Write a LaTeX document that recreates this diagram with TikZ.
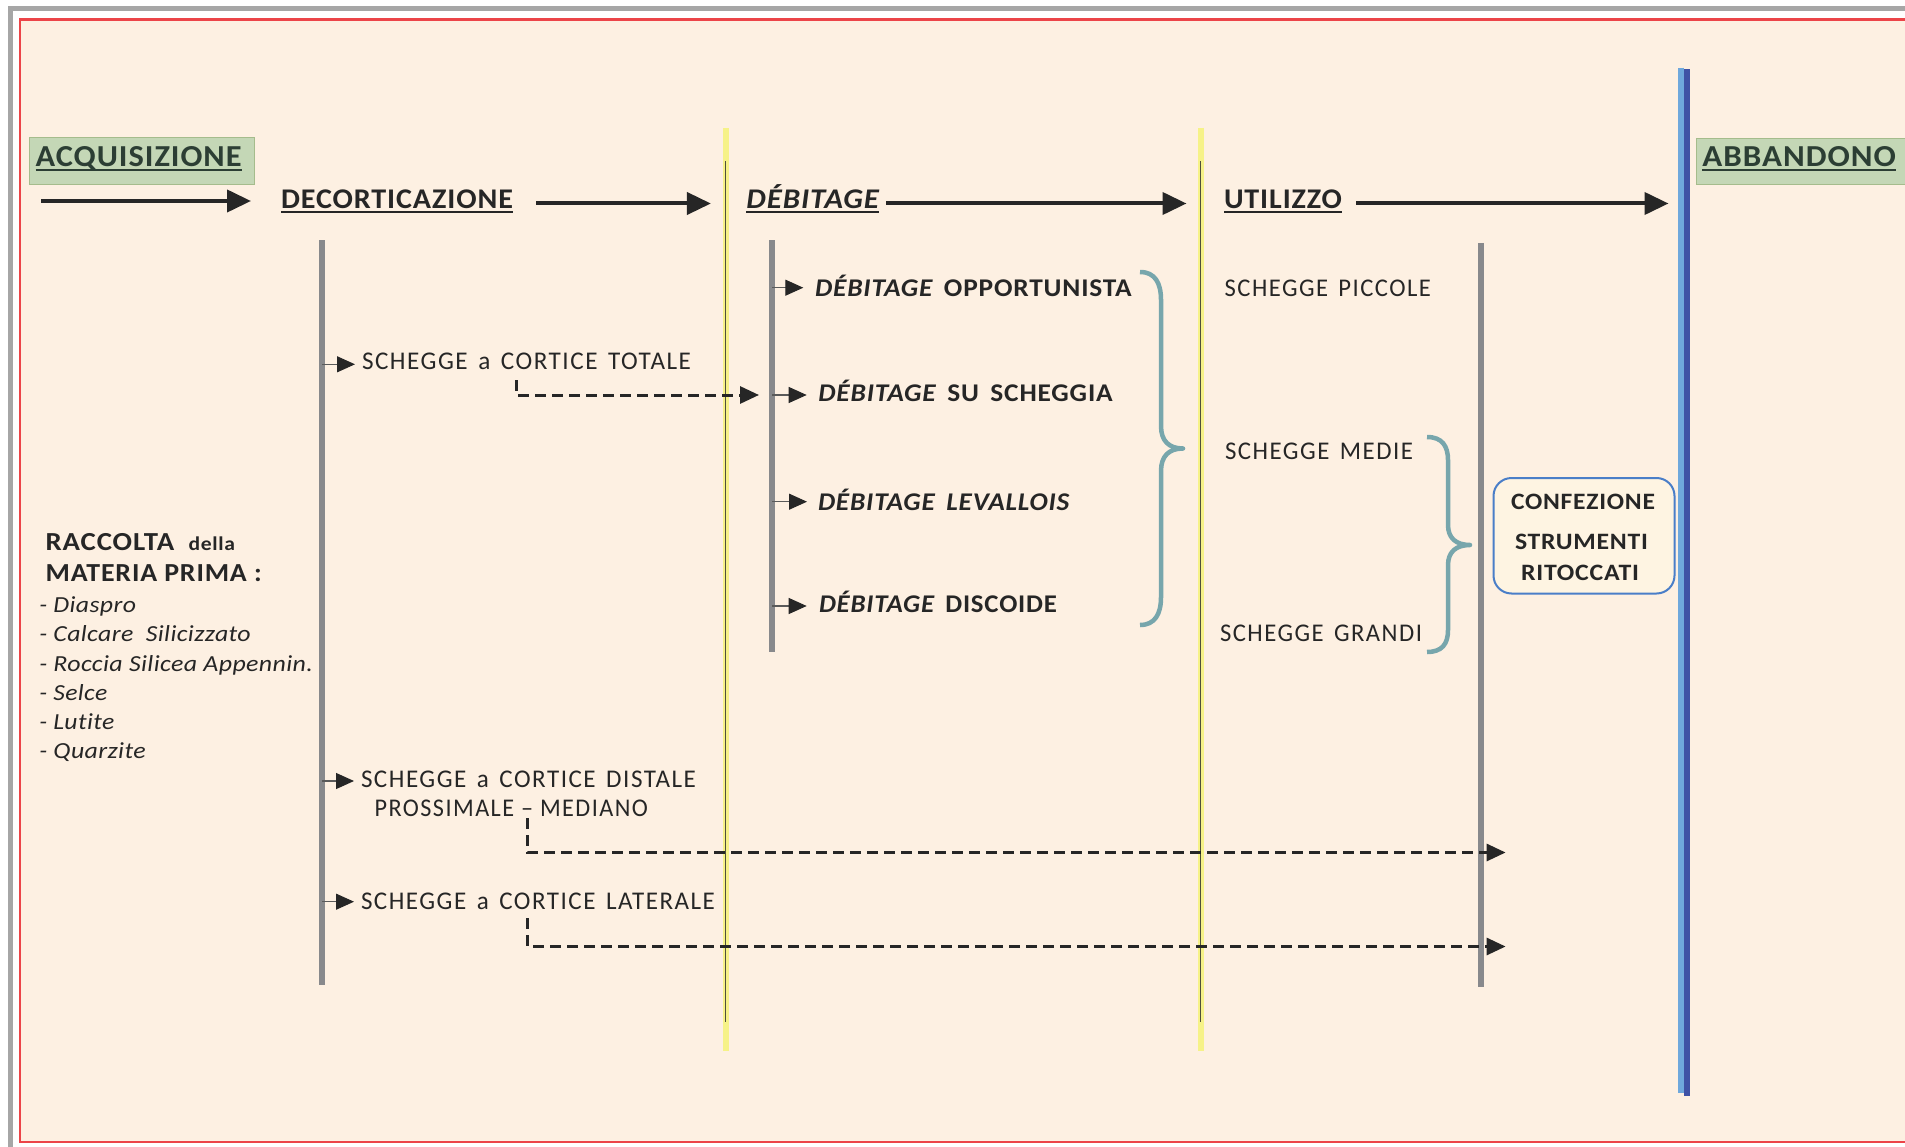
\documentclass[tikz,border=0pt]{standalone}
\usepackage{graphicx}
\usepackage{fontspec}
\setmainfont{Carlito}
\newfontfamily\widefont[LetterSpace=6,Ligatures=NoCommon]{Carlito}
\newfontfamily\snugfont[LetterSpace=3,Ligatures=NoCommon]{Carlito}
\newfontfamily\tightfont[LetterSpace=1.5,Ligatures=NoCommon]{Carlito}
\usetikzlibrary{arrows.meta}

\definecolor{paper}{RGB}{253,240,226}
\definecolor{framegray}{RGB}{166,166,166}
\definecolor{framered}{RGB}{236,68,72}
\definecolor{ink}{RGB}{38,38,38}
\definecolor{tickgray}{RGB}{90,90,90}
\definecolor{lifegray}{RGB}{136,137,140}
\definecolor{laneyellow}{RGB}{246,242,136}
\definecolor{laneink}{RGB}{80,80,60}
\definecolor{greenfill}{RGB}{196,215,182}
\definecolor{greenedge}{RGB}{165,188,140}
\definecolor{greenink}{RGB}{44,62,52}
\definecolor{braceteal}{RGB}{119,166,172}
\definecolor{toolblue}{RGB}{74,126,200}
\definecolor{toolfill}{RGB}{254,244,226}
\definecolor{endlight}{RGB}{111,168,220}
\definecolor{enddark}{RGB}{63,82,165}

% set a text to a given width, keeping its height
\newcommand\fitw[2]{\resizebox{#1pt}{\height}{#2}}
\newcommand\wsp{\hspace*{0.42em}}

\tikzset{
  txt/.style={anchor=base west, inner sep=0pt, outer sep=0pt, text=ink},
  phasetxt/.style={txt, text=greenink, font=\snugfont\bfseries\fontsize{30.5}{32}\selectfont},
  headtxt/.style={txt, font=\snugfont\bfseries\fontsize{28.5}{30}\selectfont},
  flake/.style={txt, font=\widefont\fontsize{25.5}{27}\selectfont},
  method/.style={txt, font=\snugfont\bfseries\fontsize{25.5}{27}\selectfont},
  rawtxt/.style={txt, font=\snugfont\bfseries\fontsize{26}{28}\selectfont},
  rock/.style={txt, font=\tightfont\itshape\fontsize{23}{25}\selectfont},
  tooltxt/.style={anchor=base, inner sep=0pt, text=ink, font=\snugfont\bfseries\fontsize{23.5}{25}\selectfont},
  phasebox/.style={draw=greenedge, fill=greenfill, line width=1.2pt, inner sep=0pt, anchor=north west},
  ul/.style={draw=ink, line width=1.8pt},
  flow/.style={draw=ink, line width=4pt, -{Triangle[length=24pt,width=22pt]}},
  branch/.style={draw=tickgray, line width=1.1pt, -{Triangle[length=18pt,width=16pt,color=ink]}},
  dashflow/.style={draw=ink, line width=3pt, dash pattern=on 11pt off 6pt, -{Triangle[length=19pt,width=17pt]}},
  lifeline/.style={draw=lifegray, line width=5.5pt},
  lane/.style={draw=laneyellow, line width=6pt},
  laneinner/.style={draw=laneink, line width=0.9pt},
  curly/.style={draw=braceteal, line width=4.5pt, line join=round},
  toolbox/.style={draw=toolblue, fill=toolfill, line width=2pt, rounded corners=18pt,
    minimum width=181pt, minimum height=115.5pt, inner sep=0pt}
}

\begin{document}
\begin{tikzpicture}[x=1pt,y=-1pt]
\useasboundingbox (0,0) rectangle (1905,1147);
\fill[white] (0,0) rectangle (1905,1147);
\fill[paper] (20,19.5) rectangle (1905,1142);

% page frames
\draw[framegray, line width=5pt] (10.5,1147) -- (10.5,8.5) -- (1905,8.5);
\draw[framered, line width=2.5pt] (1905,19.5) -- (20,19.5) -- (20,1142) -- (1905,1142);

% phase separators
\coordinate (y1T) at (726,128);  \coordinate (y1B) at (726,1051);
\coordinate (y2T) at (1201,128); \coordinate (y2B) at (1201,1051);
\draw[lane] (y1T) -- (y1B);
\draw[lane] (y2T) -- (y2B);
\draw[laneinner] (725.5,161.5) -- (725.5,1022);
\draw[laneinner] (1200.5,161.5) -- (1200.5,1022);

% end barrier
\coordinate (endT) at (1684,68);
\draw[endlight, line width=6pt] (1681,67.7) -- (1681,1093.3);
\draw[enddark, line width=5.8pt] (1686.8,69.3) -- (1686.8,1096);

% lifelines
\coordinate (decT) at (322,240.5);  \coordinate (decB) at (322,984.5);
\coordinate (debT) at (772,240.5);  \coordinate (debB) at (772,652);
\coordinate (utiT) at (1481,243);   \coordinate (utiB) at (1481,986.5);
\draw[lifeline] (decT) -- (decB);
\draw[lifeline] (debT) -- (debB);
\draw[lifeline] (utiT) -- (utiB);

% phase boxes
\node[phasebox, minimum width=224.7pt, minimum height=47pt] (acqbox) at (29,137) {};
\node[phasetxt] (acq) at (35.6,166.7) {\fitw{206}{ACQUISIZIONE}};
\node[phasebox, minimum width=230pt, minimum height=46.6pt] (abbbox) at (1695.5,137.7) {};
\node[phasetxt] (abb) at (1702.4,166.7) {\fitw{193.6}{ABBANDONO}};

% phase headers
\node[headtxt] (dec) at (281,208.3) {\fitw{232}{DECORTICAZIONE}};
\node[headtxt] (deb) at (746.4,208.3) {\fitw{132.6}{\itshape DÉBITAGE}};
\node[headtxt] (uti) at (1224,208.3) {\fitw{118}{UTILIZZO}};

\foreach \n in {dec,deb,uti}
  \draw[ul] ([yshift=-3.5pt]\n.base west) -- ([yshift=-3.5pt]\n.base east);
\foreach \n in {acq,abb}
  \draw[ul, draw=greenink] ([yshift=-3.5pt]\n.base west) -- ([yshift=-3.5pt]\n.base east);

% main flow
\coordinate (start) at (41,201);
\coordinate (laneY) at (0,203.5);
\draw[flow, shorten >=30pt] (start) -- (start -| dec.west);
\draw[flow, shorten <=23pt, shorten >=35.5pt] (dec.east |- laneY) -- (deb.west |- laneY);
\draw[flow, shorten <=7pt, shorten >=37.5pt] (deb.east |- laneY) -- (uti.west |- laneY);
\draw[flow, shorten <=14pt, shorten >=15.5pt] (uti.east |- laneY) -- (endT |- laneY);

% raw material
\node[rawtxt] (rac) at (45.7,550) {\fitw{189.3}{RACCOLTA\hspace{0.5em}{\fontsize{19.5}{20}\selectfont della}}};
\node[rawtxt] (mat) at (45.7,581) {\fitw{216}{MATERIA PRIMA :}};
\node[rock] (r1) at (39.3,612.3) {\fitw{96.7}{- Diaspro}};
\node[rock] (r2) at (39.3,641.7) {\fitw{211.4}{- Calcare\ \ Silicizzato}};
\node[rock] (r3) at (39.3,671.7) {\fitw{273.7}{- Roccia Silicea Appennin.}};
\node[rock] (r4) at (39.3,700) {\fitw{68}{- Selce}};
\node[rock] (r5) at (39.3,729.3) {\fitw{75}{- Lutite}};
\node[rock] (r6) at (39.3,758.3) {\fitw{106.4}{- Quarzite}};

% decortication products
\node[flake] (tot) at (362,370) {\fitw{329}{SCHEGGE\wsp a\wsp CORTICE\wsp TOTALE}};
\node[flake] (dis) at (361,787.7) {\fitw{335}{SCHEGGE\wsp a\wsp CORTICE\wsp DISTALE}};
\node[flake] (pro) at (374.6,816.7) {\fitw{273.4}{PROSSIMALE – MEDIANO}};
\node[flake] (lat) at (361,909) {\fitw{354}{SCHEGGE\wsp a\wsp CORTICE\wsp LATERALE}};

\coordinate (b-tot) at (322,364.3);
\coordinate (b-dis) at (322,781);
\coordinate (b-lat) at (322,901.7);
\draw[branch, shorten >=7pt] (b-tot) -- (b-tot -| tot.west);
\draw[branch, shorten >=7pt] (b-dis) -- (b-dis -| dis.west);
\draw[branch, shorten >=7pt] (b-lat) -- (b-lat -| lat.west);

% debitage methods
\node[method] (m1) at (815,296.7) {\fitw{316.7}{{\itshape DÉBITAGE}\wsp OPPORTUNISTA}};
\node[method] (m2) at (818.3,401.7) {\fitw{294.4}{{\itshape DÉBITAGE}\wsp SU\wsp SCHEGGIA}};
\node[method] (m3) at (818,510) {\fitw{251.3}{{\itshape DÉBITAGE\wsp LEVALLOIS}}};
\node[method] (m4) at (819,612.7) {\fitw{238}{{\itshape DÉBITAGE}\wsp DISCOIDE}};

\coordinate (b-m1) at (772,287.7);
\coordinate (b-m2) at (772,395);
\coordinate (b-m3) at (772,501.7);
\coordinate (b-m4) at (772,606);
\draw[branch, shorten >=11.7pt] (b-m1) -- (b-m1 -| m1.west);
\draw[branch, shorten >=11.6pt] (b-m2) -- (b-m2 -| m2.west);
\draw[branch, shorten >=11pt] (b-m3) -- (b-m3 -| m3.west);
\draw[branch, shorten >=12.3pt] (b-m4) -- (b-m4 -| m4.west);

% flake sizes
\node[flake] (sp) at (1224.6,296.5) {\fitw{206.4}{SCHEGGE\wsp PICCOLE}};
\node[flake] (sm) at (1225,459.5) {\fitw{188}{SCHEGGE\wsp MEDIE}};
\node[flake] (sg) at (1220,641.5) {\fitw{202}{SCHEGGE\wsp GRANDI}};

% braces
\draw[curly] (1140,272) .. controls (1155,272) and (1161,283) .. (1161,300)
  -- (1161,426) .. controls (1161,441) and (1169,448.5) .. (1183,448.5)
  .. controls (1169,448.5) and (1161,456) .. (1161,471)
  -- (1161,597) .. controls (1161,614) and (1155,625) .. (1140,625);
\draw[curly] (1427,437) .. controls (1442,437) and (1448,446) .. (1448,460)
  -- (1448,525) .. controls (1448,538) and (1456,545) .. (1470,545)
  .. controls (1456,545) and (1448,552) .. (1448,565)
  -- (1448,630) .. controls (1448,644) and (1442,652) .. (1427,652);

% retouched tools
\node[toolbox] (tool) at (1584,535.75) {};
\node[tooltxt] (t1) at (1583,509.5) {\fitw{144}{CONFEZIONE}};
\node[tooltxt] (t2) at (1581.5,549.5) {\fitw{133}{STRUMENTI}};
\node[tooltxt] (t3) at (1580,580.5) {\fitw{118}{RITOCCATI}};

% dashed transfers
\coordinate (d1s) at (516,380);
\draw[dashflow, shorten >=13pt] (d1s) |- (b-m2);
\coordinate (d2s) at (527.7,818);  \coordinate (d2e) at (1505.6,852.5);
\coordinate (d3s) at (527.7,918);  \coordinate (d3e) at (1505.6,946.5);
\draw[dashflow] (d2s) |- (d2e);
\draw[dashflow] (d3s) |- (d3e);
\end{tikzpicture}
\end{document}
